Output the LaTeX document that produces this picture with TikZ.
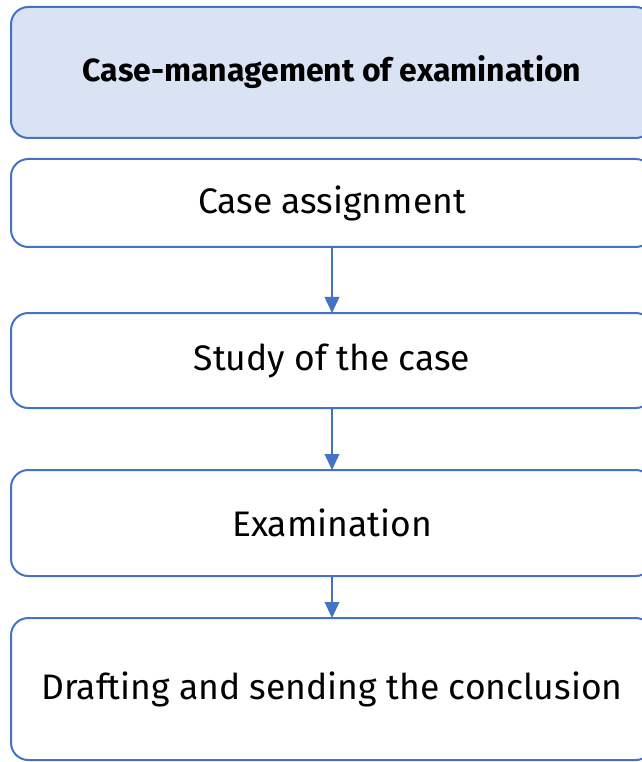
\documentclass[tikz,border=0pt]{standalone}
\usepackage{fontspec}
\setmainfont{Fira Sans}
\usetikzlibrary{arrows.meta, positioning}
\definecolor{stepblue}{HTML}{4472C4}
\definecolor{headfill}{HTML}{DAE3F3}

\begin{document}
\begin{tikzpicture}[
        x=0.75pt, y=-0.75pt,
        stage/.style={
            draw=stepblue,
            line width=1.5pt,
            rounded corners=13pt,
            fill=white,
            outer sep=0pt,
            minimum width=481.5pt,
            align=center,
            font=\fontsize{26.6}{31}\selectfont
        },
        flow/.style={
            draw=stepblue,
            line width=1.1pt,
            -{Triangle[width=11pt,length=12pt]}
        }
    ]
        \useasboundingbox (0,0) rectangle (641,762);
        % header box
        \node[stage, fill=headfill, minimum height=98.25pt, anchor=north west,
              font=\bfseries\fontsize{24}{28}\selectfont] (head) at (11,7)
              {Case-management of examination};

        % steps
        \node[stage, minimum height=66pt, below=15.75pt of head] (assign) {Case assignment};
        \node[stage, minimum height=71.25pt, below=49.5pt of assign] (study) {Study of the case};
        \node[stage, minimum height=79.5pt, below=46.5pt of study] (exam) {Examination};
        \node[stage, minimum height=106.5pt, below=31.5pt of exam] (draft) {Drafting and sending the conclusion};

        % arrows
        \draw[flow] (assign) -- (study);
        \draw[flow] (study) -- (exam);
        \draw[flow] (exam) -- (draft);
    \end{tikzpicture}
\end{document}
